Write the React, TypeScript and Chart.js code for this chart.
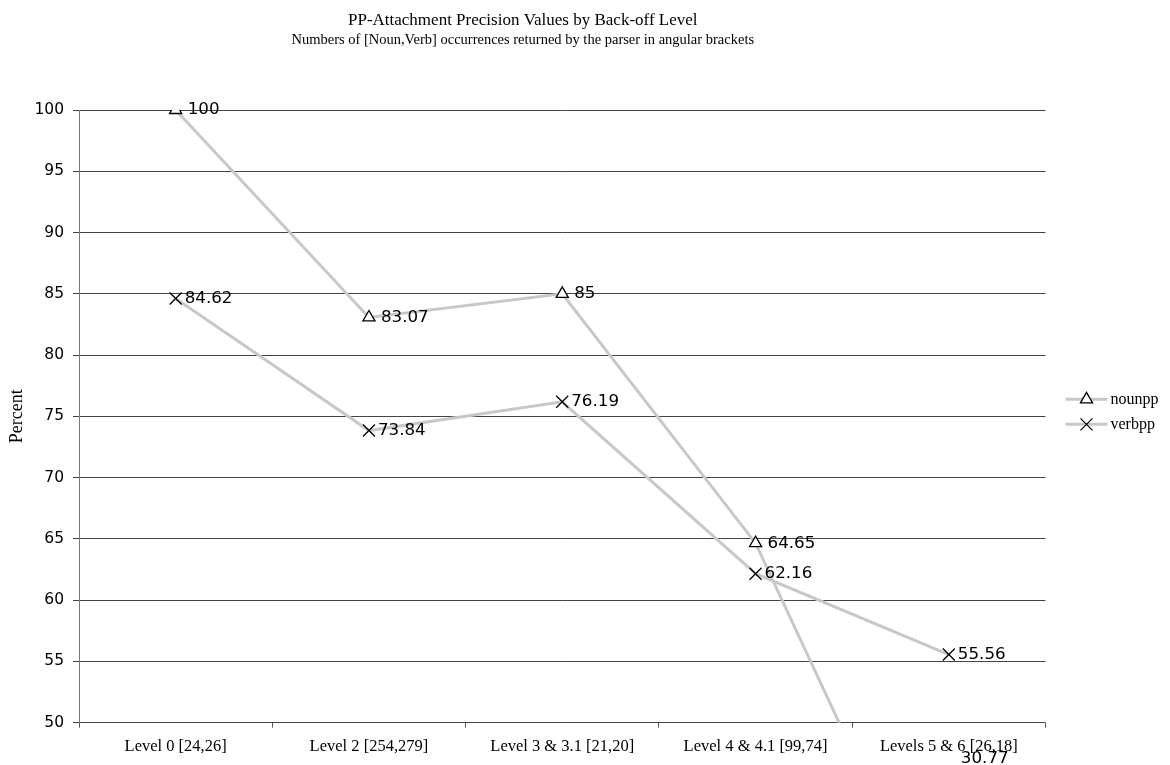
import React, { useEffect, useRef } from 'react';
import { Chart, registerables } from 'chart.js';

Chart.register(...registerables);

const categories = [
  'Level 0 [24,26]',
  'Level 2 [254,279]',
  'Level 3 & 3.1 [21,20]',
  'Level 4 & 4.1 [99,74]',
  'Levels 5 & 6 [26,18]',
];
const nounppValues = [100, 83.07, 85, 64.65, 30.77];
const verbppValues = [84.62, 73.84, 76.19, 62.16, 55.56];
const seriesNames = ['nounpp', 'verbpp'];
const yMin = 50;
const yMax = 100;
const yStep = 5;
const titleText = 'PP-Attachment Precision Values by Back-off Level';
const subtitleText = 'Numbers of [Noun,Verb] occurrences returned by the parser in angular brackets';
const yTitleText = 'Percent';

const SERIF = '"Liberation Serif", "Times New Roman", serif';
const SANS = '"DejaVu Sans", Verdana, sans-serif';
const LINE_COLOR = '#c8c8c8';
const LABEL_OFFSET: Record<string, number> = { triangle: 12, crossRot: 9 };

function drawMarker(ctx: CanvasRenderingContext2D, style: string, x: number, y: number, r: number) {
  ctx.save();
  ctx.strokeStyle = '#000';
  ctx.lineWidth = 1.3;
  ctx.beginPath();
  if (style === 'triangle') {
    ctx.fillStyle = '#fff';
    const h = r * 1.5;
    const w = r * Math.sqrt(3);
    ctx.moveTo(x, y - h / 2 - r / 4);
    ctx.lineTo(x + w / 2, y + h / 2 - r / 4);
    ctx.lineTo(x - w / 2, y + h / 2 - r / 4);
    ctx.closePath();
    ctx.fill();
  } else {
    const o = r * Math.SQRT1_2;
    ctx.moveTo(x - o, y - o);
    ctx.lineTo(x + o, y + o);
    ctx.moveTo(x - o, y + o);
    ctx.lineTo(x + o, y - o);
  }
  ctx.stroke();
  ctx.restore();
}

const valueLabels = {
  id: 'valueLabels',
  afterDatasetsDraw(chart: any) {
    const ctx = chart.ctx as CanvasRenderingContext2D;
    ctx.save();
    ctx.font = `16.7px ${SANS}`;
    ctx.fillStyle = '#000';
    ctx.textBaseline = 'middle';
    ctx.textAlign = 'left';
    chart.data.datasets.forEach((ds: any, i: number) => {
      const meta = chart.getDatasetMeta(i);
      const off = LABEL_OFFSET[ds.pointStyle] ?? 10;
      meta.data.forEach((pt: any, j: number) => {
        const y = Math.min(pt.y, chart.height - 6);
        ctx.fillText(String(ds.data[j]), pt.x + off, y);
      });
    });
    ctx.restore();
  },
};

const sideLegend = {
  id: 'sideLegend',
  afterDraw(chart: any) {
    const ctx = chart.ctx as CanvasRenderingContext2D;
    const area = chart.chartArea;
    const mid = (area.top + area.bottom) / 2;
    const x0 = area.right + 20;
    chart.data.datasets.forEach((ds: any, i: number) => {
      const y = mid - 17 + i * 25;
      ctx.save();
      ctx.strokeStyle = LINE_COLOR;
      ctx.lineWidth = 3;
      ctx.beginPath();
      ctx.moveTo(x0, y);
      ctx.lineTo(x0 + 42, y);
      ctx.stroke();
      ctx.restore();
      drawMarker(ctx, ds.pointStyle, x0 + 21, y, ds.pointStyle === 'triangle' ? 7 : 8.5);
      ctx.save();
      ctx.font = `16px ${SERIF}`;
      ctx.fillStyle = '#000';
      ctx.textBaseline = 'middle';
      ctx.textAlign = 'left';
      ctx.fillText(ds.label, x0 + 45, y);
      ctx.restore();
    });
  },
};

export default function App() {
  const canvasRef = useRef<HTMLCanvasElement | null>(null);

  useEffect(() => {
    if (!canvasRef.current) return;
    const chart = new Chart(canvasRef.current, {
      type: 'line',
      data: {
        labels: categories,
        datasets: [
          {
            label: seriesNames[0],
            data: nounppValues,
            borderColor: LINE_COLOR,
            borderWidth: 3,
            pointStyle: 'triangle',
            pointRadius: 7,
            pointBorderColor: '#000',
            pointBackgroundColor: '#fff',
            pointBorderWidth: 1.3,
            tension: 0,
          },
          {
            label: seriesNames[1],
            data: verbppValues,
            borderColor: LINE_COLOR,
            borderWidth: 3,
            pointStyle: 'crossRot',
            pointRadius: 8.5,
            pointBorderColor: '#000',
            pointBackgroundColor: '#fff',
            pointBorderWidth: 1.3,
            tension: 0,
          },
        ],
      },
      options: {
        responsive: false,
        animation: false,
        events: [],
        layout: { padding: { top: 0, right: 124.5, bottom: 0, left: 0 } },
        plugins: {
          legend: { display: false },
          tooltip: { enabled: false },
          title: {
            display: true,
            text: titleText,
            color: '#000',
            font: { family: SERIF, size: 17, weight: 'normal' },
            padding: { top: 10.8, bottom: 0 },
          },
          subtitle: {
            display: true,
            text: subtitleText,
            color: '#000',
            font: { family: SERIF, size: 14.5, weight: 'normal' },
            padding: { top: 0, bottom: 61.4 },
          },
        },
        scales: {
          x: {
            type: 'category',
            offset: true,
            grid: {
              offset: true,
              drawOnChartArea: false,
              drawTicks: true,
              tickLength: 5,
              color: '#555',
            },
            border: { display: false },
            ticks: {
              color: '#000',
              font: { family: SERIF, size: 16.5 },
              padding: 8.9,
              maxRotation: 0,
              autoSkip: false,
            },
            afterFit: (s: any) => {
              s.height = 42.3;
            },
          },
          y: {
            min: yMin,
            max: yMax,
            ticks: {
              stepSize: yStep,
              color: '#000',
              font: { family: SANS, size: 15.5 },
              padding: 9,
            },
            grid: { color: '#444', tickLength: 6, drawTicks: true },
            border: { display: true, color: '#777' },
            title: {
              display: true,
              text: yTitleText,
              color: '#000',
              font: { family: SERIF, size: 18 },
              padding: { top: 6.2, bottom: 0 },
            },
            afterFit: (s: any) => {
              s.width = 79;
            },
          },
        },
      },
      plugins: [valueLabels, sideLegend],
    } as any);
    return () => chart.destroy();
  }, []);

  return (
    <div style={{ position: 'fixed', left: 0, top: 0, width: 1170, height: 765, background: '#fff' }}>
      <canvas ref={canvasRef} width={1170} height={765} style={{ display: 'block' }} />
    </div>
  );
}
